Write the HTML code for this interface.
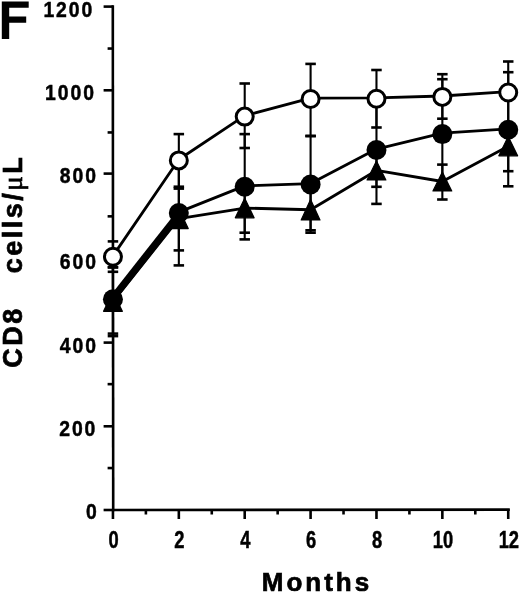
<!DOCTYPE html>
<html><head><meta charset="utf-8"><style>
html,body{margin:0;padding:0;background:#fff;}
svg{display:block;filter:grayscale(1) blur(0.35px);}
text{font-family:"Liberation Sans",sans-serif;font-weight:bold;fill:#000;}
.tk{font-size:22px;stroke:#000;stroke-width:0.5px;}
.F{font-size:52px;}
.lab{font-size:26px;stroke:#000;stroke-width:0.7px;}
</style></head><body>
<svg width="520" height="593" viewBox="0 0 520 593">
<rect width="520" height="593" fill="#fff"/>
<line x1="112.8" y1="5.3" x2="113.2" y2="511.3" stroke="#000" stroke-width="2.6"/>
<line x1="112.1" y1="510" x2="509.8" y2="509.6" stroke="#000" stroke-width="2.6"/>
<line x1="103.6" y1="6.6" x2="113.2" y2="6.6" stroke="#000" stroke-width="2.6"/>
<line x1="103.6" y1="90.3" x2="113.2" y2="90.3" stroke="#000" stroke-width="2.6"/>
<line x1="103.6" y1="173.6" x2="113.2" y2="173.6" stroke="#000" stroke-width="2.6"/>
<line x1="103.6" y1="258.2" x2="113.2" y2="258.2" stroke="#000" stroke-width="2.6"/>
<line x1="103.6" y1="342.6" x2="113.2" y2="342.6" stroke="#000" stroke-width="2.6"/>
<line x1="103.6" y1="426.3" x2="113.2" y2="426.3" stroke="#000" stroke-width="2.6"/>
<line x1="103.6" y1="510.0" x2="113.2" y2="510.0" stroke="#000" stroke-width="2.6"/>
<line x1="107.6" y1="468.05" x2="113.2" y2="468.05" stroke="#000" stroke-width="2.6"/>
<line x1="107.6" y1="384.15" x2="113.2" y2="384.15" stroke="#000" stroke-width="2.6"/>
<line x1="107.6" y1="300.25" x2="113.2" y2="300.25" stroke="#000" stroke-width="2.6"/>
<line x1="107.6" y1="216.35" x2="113.2" y2="216.35" stroke="#000" stroke-width="2.6"/>
<line x1="107.6" y1="132.45" x2="113.2" y2="132.45" stroke="#000" stroke-width="2.6"/>
<line x1="107.6" y1="48.55" x2="113.2" y2="48.55" stroke="#000" stroke-width="2.6"/>
<line x1="112.95" y1="509" x2="112.95" y2="519" stroke="#000" stroke-width="2.6"/>
<line x1="145.89" y1="509" x2="145.89" y2="514.5" stroke="#000" stroke-width="2.6"/>
<line x1="178.83" y1="509" x2="178.83" y2="519" stroke="#000" stroke-width="2.6"/>
<line x1="211.77" y1="509" x2="211.77" y2="514.5" stroke="#000" stroke-width="2.6"/>
<line x1="244.71" y1="509" x2="244.71" y2="519" stroke="#000" stroke-width="2.6"/>
<line x1="277.65" y1="509" x2="277.65" y2="514.5" stroke="#000" stroke-width="2.6"/>
<line x1="310.59" y1="509" x2="310.59" y2="519" stroke="#000" stroke-width="2.6"/>
<line x1="343.53" y1="509" x2="343.53" y2="514.5" stroke="#000" stroke-width="2.6"/>
<line x1="376.47" y1="509" x2="376.47" y2="519" stroke="#000" stroke-width="2.6"/>
<line x1="409.41" y1="509" x2="409.41" y2="514.5" stroke="#000" stroke-width="2.6"/>
<line x1="442.35" y1="509" x2="442.35" y2="519" stroke="#000" stroke-width="2.6"/>
<line x1="475.29" y1="509" x2="475.29" y2="514.5" stroke="#000" stroke-width="2.6"/>
<line x1="508.23" y1="509" x2="508.23" y2="519" stroke="#000" stroke-width="2.6"/>
<line x1="112.95" y1="267.10" x2="112.95" y2="333.60" stroke="#000" stroke-width="2.1"/>
<line x1="107.70" y1="267.10" x2="118.20" y2="267.10" stroke="#000" stroke-width="2.6"/>
<line x1="107.70" y1="333.60" x2="118.20" y2="333.60" stroke="#000" stroke-width="2.6"/>
<line x1="178.83" y1="160.60" x2="178.83" y2="265.40" stroke="#000" stroke-width="2.1"/>
<line x1="173.58" y1="160.60" x2="184.08" y2="160.60" stroke="#000" stroke-width="2.6"/>
<line x1="173.58" y1="265.40" x2="184.08" y2="265.40" stroke="#000" stroke-width="2.6"/>
<line x1="244.71" y1="134.10" x2="244.71" y2="239.40" stroke="#000" stroke-width="2.1"/>
<line x1="239.46" y1="134.10" x2="249.96" y2="134.10" stroke="#000" stroke-width="2.6"/>
<line x1="239.46" y1="239.40" x2="249.96" y2="239.40" stroke="#000" stroke-width="2.6"/>
<line x1="310.59" y1="136.00" x2="310.59" y2="230.30" stroke="#000" stroke-width="2.1"/>
<line x1="305.34" y1="136.00" x2="315.84" y2="136.00" stroke="#000" stroke-width="2.6"/>
<line x1="305.34" y1="230.30" x2="315.84" y2="230.30" stroke="#000" stroke-width="2.6"/>
<line x1="376.47" y1="96.00" x2="376.47" y2="203.90" stroke="#000" stroke-width="2.1"/>
<line x1="371.22" y1="96.00" x2="381.72" y2="96.00" stroke="#000" stroke-width="2.6"/>
<line x1="371.22" y1="203.90" x2="381.72" y2="203.90" stroke="#000" stroke-width="2.6"/>
<line x1="442.35" y1="79.20" x2="442.35" y2="189.00" stroke="#000" stroke-width="2.1"/>
<line x1="437.10" y1="79.20" x2="447.60" y2="79.20" stroke="#000" stroke-width="2.6"/>
<line x1="437.10" y1="189.00" x2="447.60" y2="189.00" stroke="#000" stroke-width="2.6"/>
<line x1="508.23" y1="72.20" x2="508.23" y2="186.30" stroke="#000" stroke-width="2.1"/>
<line x1="502.98" y1="72.20" x2="513.48" y2="72.20" stroke="#000" stroke-width="2.6"/>
<line x1="502.98" y1="186.30" x2="513.48" y2="186.30" stroke="#000" stroke-width="2.6"/>
<line x1="112.95" y1="267.50" x2="112.95" y2="336.10" stroke="#000" stroke-width="2.1"/>
<line x1="107.70" y1="267.50" x2="118.20" y2="267.50" stroke="#000" stroke-width="2.6"/>
<line x1="107.70" y1="336.10" x2="118.20" y2="336.10" stroke="#000" stroke-width="2.6"/>
<line x1="178.83" y1="188.60" x2="178.83" y2="250.40" stroke="#000" stroke-width="2.1"/>
<line x1="173.58" y1="188.60" x2="184.08" y2="188.60" stroke="#000" stroke-width="2.6"/>
<line x1="173.58" y1="250.40" x2="184.08" y2="250.40" stroke="#000" stroke-width="2.6"/>
<line x1="244.71" y1="183.00" x2="244.71" y2="232.70" stroke="#000" stroke-width="2.1"/>
<line x1="239.46" y1="183.00" x2="249.96" y2="183.00" stroke="#000" stroke-width="2.6"/>
<line x1="239.46" y1="232.70" x2="249.96" y2="232.70" stroke="#000" stroke-width="2.6"/>
<line x1="310.59" y1="187.00" x2="310.59" y2="232.70" stroke="#000" stroke-width="2.1"/>
<line x1="305.34" y1="187.00" x2="315.84" y2="187.00" stroke="#000" stroke-width="2.6"/>
<line x1="305.34" y1="232.70" x2="315.84" y2="232.70" stroke="#000" stroke-width="2.6"/>
<line x1="376.47" y1="154.00" x2="376.47" y2="186.80" stroke="#000" stroke-width="2.1"/>
<line x1="371.22" y1="154.00" x2="381.72" y2="154.00" stroke="#000" stroke-width="2.6"/>
<line x1="371.22" y1="186.80" x2="381.72" y2="186.80" stroke="#000" stroke-width="2.6"/>
<line x1="442.35" y1="164.60" x2="442.35" y2="199.50" stroke="#000" stroke-width="2.1"/>
<line x1="437.10" y1="164.60" x2="447.60" y2="164.60" stroke="#000" stroke-width="2.6"/>
<line x1="437.10" y1="199.50" x2="447.60" y2="199.50" stroke="#000" stroke-width="2.6"/>
<line x1="508.23" y1="126.00" x2="508.23" y2="171.20" stroke="#000" stroke-width="2.1"/>
<line x1="502.98" y1="126.00" x2="513.48" y2="126.00" stroke="#000" stroke-width="2.6"/>
<line x1="502.98" y1="171.20" x2="513.48" y2="171.20" stroke="#000" stroke-width="2.6"/>
<line x1="112.95" y1="241.40" x2="112.95" y2="271.80" stroke="#000" stroke-width="2.1"/>
<line x1="107.70" y1="241.40" x2="118.20" y2="241.40" stroke="#000" stroke-width="2.6"/>
<line x1="107.70" y1="271.80" x2="118.20" y2="271.80" stroke="#000" stroke-width="2.6"/>
<line x1="178.83" y1="134.10" x2="178.83" y2="186.70" stroke="#000" stroke-width="2.1"/>
<line x1="173.58" y1="134.10" x2="184.08" y2="134.10" stroke="#000" stroke-width="2.6"/>
<line x1="173.58" y1="186.70" x2="184.08" y2="186.70" stroke="#000" stroke-width="2.6"/>
<line x1="244.71" y1="83.50" x2="244.71" y2="148.00" stroke="#000" stroke-width="2.1"/>
<line x1="239.46" y1="83.50" x2="249.96" y2="83.50" stroke="#000" stroke-width="2.6"/>
<line x1="239.46" y1="148.00" x2="249.96" y2="148.00" stroke="#000" stroke-width="2.6"/>
<line x1="310.59" y1="63.90" x2="310.59" y2="136.00" stroke="#000" stroke-width="2.1"/>
<line x1="305.34" y1="63.90" x2="315.84" y2="63.90" stroke="#000" stroke-width="2.6"/>
<line x1="305.34" y1="136.00" x2="315.84" y2="136.00" stroke="#000" stroke-width="2.6"/>
<line x1="376.47" y1="70.00" x2="376.47" y2="127.50" stroke="#000" stroke-width="2.1"/>
<line x1="371.22" y1="70.00" x2="381.72" y2="70.00" stroke="#000" stroke-width="2.6"/>
<line x1="371.22" y1="127.50" x2="381.72" y2="127.50" stroke="#000" stroke-width="2.6"/>
<line x1="442.35" y1="74.20" x2="442.35" y2="118.70" stroke="#000" stroke-width="2.1"/>
<line x1="437.10" y1="74.20" x2="447.60" y2="74.20" stroke="#000" stroke-width="2.6"/>
<line x1="437.10" y1="118.70" x2="447.60" y2="118.70" stroke="#000" stroke-width="2.6"/>
<line x1="508.23" y1="61.50" x2="508.23" y2="123.50" stroke="#000" stroke-width="2.1"/>
<line x1="502.98" y1="61.50" x2="513.48" y2="61.50" stroke="#000" stroke-width="2.6"/>
<line x1="502.98" y1="123.50" x2="513.48" y2="123.50" stroke="#000" stroke-width="2.6"/>
<polyline points="112.95,301.55 178.83,218.70 244.71,208.05 310.59,209.75 376.47,170.45 442.35,181.50 508.23,146.20" fill="none" stroke="#000" stroke-width="2.8" stroke-linejoin="round"/>
<polyline points="112.95,298.30 178.83,212.10 244.71,185.90 310.59,183.60 376.47,149.10 442.35,133.20 508.23,128.90" fill="none" stroke="#000" stroke-width="2.8" stroke-linejoin="round"/>
<line x1="113.2" y1="297.6" x2="178.8" y2="214.3" stroke="#000" stroke-width="7.0"/>
<polyline points="112.95,255.90 178.83,159.50 244.71,115.70 310.59,98.10 376.47,97.90 442.35,96.00 508.23,91.60" fill="none" stroke="#000" stroke-width="2.8" stroke-linejoin="round"/>
<polygon points="112.95,291.80 103.55,311.30 122.35,311.30" fill="#000" stroke="#000" stroke-width="1.2" stroke-linejoin="round"/>
<polygon points="178.83,208.80 169.43,228.60 188.23,228.60" fill="#000" stroke="#000" stroke-width="1.2" stroke-linejoin="round"/>
<polygon points="244.71,198.30 235.31,217.80 254.11,217.80" fill="#000" stroke="#000" stroke-width="1.2" stroke-linejoin="round"/>
<polygon points="310.59,199.60 301.19,219.90 319.99,219.90" fill="#000" stroke="#000" stroke-width="1.2" stroke-linejoin="round"/>
<polygon points="376.47,161.00 367.07,179.90 385.87,179.90" fill="#000" stroke="#000" stroke-width="1.2" stroke-linejoin="round"/>
<polygon points="442.35,172.10 432.95,190.90 451.75,190.90" fill="#000" stroke="#000" stroke-width="1.2" stroke-linejoin="round"/>
<polygon points="508.23,136.60 498.83,155.80 517.63,155.80" fill="#000" stroke="#000" stroke-width="1.2" stroke-linejoin="round"/>
<circle cx="112.95" cy="299.20" r="10.00" fill="#000"/>
<circle cx="178.83" cy="213.00" r="10.00" fill="#000"/>
<circle cx="244.71" cy="186.80" r="10.00" fill="#000"/>
<circle cx="310.59" cy="184.50" r="10.00" fill="#000"/>
<circle cx="376.47" cy="150.00" r="10.00" fill="#000"/>
<circle cx="442.35" cy="134.10" r="10.00" fill="#000"/>
<circle cx="508.23" cy="129.80" r="10.00" fill="#000"/>
<circle cx="112.95" cy="256.80" r="8.50" fill="#fff" stroke="#000" stroke-width="3.0"/>
<circle cx="178.83" cy="160.40" r="8.50" fill="#fff" stroke="#000" stroke-width="3.0"/>
<circle cx="244.71" cy="116.60" r="8.50" fill="#fff" stroke="#000" stroke-width="3.0"/>
<circle cx="310.59" cy="99.00" r="8.50" fill="#fff" stroke="#000" stroke-width="3.0"/>
<circle cx="376.47" cy="98.80" r="8.50" fill="#fff" stroke="#000" stroke-width="3.0"/>
<circle cx="442.35" cy="96.90" r="8.50" fill="#fff" stroke="#000" stroke-width="3.0"/>
<circle cx="508.23" cy="92.50" r="8.50" fill="#fff" stroke="#000" stroke-width="3.0"/>
<text x="0" y="0" text-anchor="end" class="tk" style="letter-spacing:2.2px" transform="translate(94.2,16.9) scale(0.88,1)">1200</text>
<text x="0" y="0" text-anchor="end" class="tk" style="letter-spacing:2.2px" transform="translate(95.9,100.0) scale(0.88,1)">1000</text>
<text x="0" y="0" text-anchor="end" class="tk" style="letter-spacing:2.2px" transform="translate(97.9,183.4) scale(0.88,1)">800</text>
<text x="0" y="0" text-anchor="end" class="tk" style="letter-spacing:2.2px" transform="translate(97.9,269.1) scale(0.88,1)">600</text>
<text x="0" y="0" text-anchor="end" class="tk" style="letter-spacing:2.2px" transform="translate(97.9,352.7) scale(0.88,1)">400</text>
<text x="0" y="0" text-anchor="end" class="tk" style="letter-spacing:2.2px" transform="translate(97.3,435.6) scale(0.88,1)">200</text>
<text x="0" y="0" text-anchor="end" class="tk" style="letter-spacing:2.2px" transform="translate(98.8,518.8) scale(0.88,1)">0</text>
<text x="0" y="0" text-anchor="middle" class="tk" style="font-size:23.8px" transform="translate(113.55,547.8) scale(0.77,1)">0</text>
<text x="0" y="0" text-anchor="middle" class="tk" style="font-size:23.8px" transform="translate(179.43,547.8) scale(0.77,1)">2</text>
<text x="0" y="0" text-anchor="middle" class="tk" style="font-size:23.8px" transform="translate(245.31,547.8) scale(0.77,1)">4</text>
<text x="0" y="0" text-anchor="middle" class="tk" style="font-size:23.8px" transform="translate(311.19,547.8) scale(0.77,1)">6</text>
<text x="0" y="0" text-anchor="middle" class="tk" style="font-size:23.8px" transform="translate(377.07,547.8) scale(0.77,1)">8</text>
<text x="0" y="0" text-anchor="middle" class="tk" style="font-size:23.8px" transform="translate(442.95,547.8) scale(0.77,1)">10</text>
<text x="0" y="0" text-anchor="middle" class="tk" style="font-size:23.8px" transform="translate(508.83,547.8) scale(0.77,1)">12</text>
<path d="M1.8,1.4H28.7V7.8H9.2V16.4H26.2V22.8H9.2V38.9H1.8Z" fill="#000"/>
<text x="317" y="590.5" text-anchor="middle" class="lab" style="letter-spacing:3px">Months</text>
<text class="lab" transform="translate(22.3,367.8) rotate(-90)" style="letter-spacing:2.5px;font-size:27px">CD8<tspan dx="33">cells/</tspan><tspan font-family="Liberation Serif" font-weight="normal">μ</tspan>L</text>
</svg>
</body></html>
